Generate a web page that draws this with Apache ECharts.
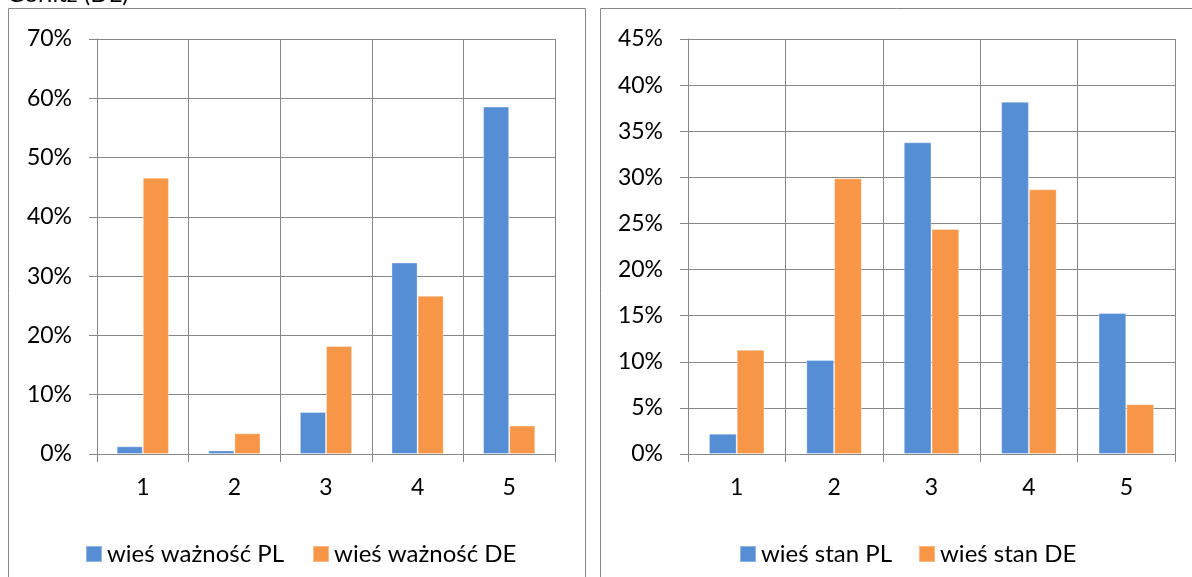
<!DOCTYPE html>
<html>
<head>
<meta charset="utf-8">
<script src="https://cdn.jsdelivr.net/npm/echarts@6/dist/echarts.min.js"></script>
<style>
html,body{margin:0;padding:0;background:#fff;}
#c{width:1192px;height:577px;}
</style>
</head>
<body>
<div id="c"></div>
<script>
var categories = ['1', '2', '3', '4', '5'];
var importancePL = [1.3, 0.6, 7.1, 32.3, 58.6];
var importanceDE = [46.6, 3.5, 18.2, 26.7, 4.8];
var statePL = [2.2, 10.2, 33.8, 38.2, 15.3];
var stateDE = [11.3, 29.9, 24.4, 28.7, 5.4];
var leftTicks = {min: 0, max: 70, interval: 10};
var rightTicks = {min: 0, max: 45, interval: 5};
var seriesNames = ['wieś ważność PL', 'wieś ważność DE', 'wieś stan PL', 'wieś stan DE'];
var topText = 'Görlitz (DE)';

var FONT = 'Lato';
var GRID = '#878787';
var BLUE = '#558ED5';
var ORANGE = '#F79646';

function xAx(gi) {
  return {
    type: 'category', gridIndex: gi, data: categories,
    axisLine: {show: true, lineStyle: {color: GRID, width: 1}},
    axisTick: {show: true, length: 8, lineStyle: {color: GRID, width: 1}},
    splitLine: {show: true, lineStyle: {color: GRID, width: 1}},
    axisLabel: {color: '#000', fontFamily: FONT, fontSize: 23, margin: 22}
  };
}
function yAx(gi, t) {
  return {
    type: 'value', gridIndex: gi, min: t.min, max: t.max, interval: t.interval,
    axisLine: {show: true, lineStyle: {color: GRID, width: 1}},
    axisTick: {show: true, length: 8, lineStyle: {color: GRID, width: 1}},
    splitLine: {show: true, lineStyle: {color: GRID, width: 1}},
    axisLabel: {color: '#000', fontFamily: FONT, fontSize: 23, margin: 25, formatter: '{value}%'}
  };
}
function bar(name, data, gi, color) {
  return {
    name: name, type: 'bar', xAxisIndex: gi, yAxisIndex: gi, data: data,
    barGap: '0%', barCategoryGap: '43%',
    itemStyle: {color: color, borderColor: 'rgba(255,255,255,0.35)', borderWidth: 1},
    animation: false
  };
}

var chart = echarts.init(document.getElementById('c'), null, {renderer: 'canvas'});
chart.setOption({
  animation: false,
  backgroundColor: '#fff',
  color: [BLUE, ORANGE, BLUE, ORANGE],
  grid: [
    {left: 97, top: 39, width: 458, height: 415, containLabel: false},
    {left: 688, top: 39, width: 487, height: 415, containLabel: false}
  ],
  xAxis: [xAx(0), xAx(1)],
  yAxis: [yAx(0, leftTicks), yAx(1, rightTicks)],
  legend: [
    {data: [seriesNames[0], seriesNames[1]], left: 80, top: 537, itemWidth: 16, itemHeight: 16, itemGap: 28,
     icon: 'rect', textStyle: {fontFamily: FONT, fontSize: 24, color: '#000'}},
    {data: [seriesNames[2], seriesNames[3]], left: 734, top: 537, itemWidth: 16, itemHeight: 16, itemGap: 26,
     icon: 'rect', textStyle: {fontFamily: FONT, fontSize: 24, color: '#000'}}
  ],
  graphic: [
    {type: 'rect', shape: {x: 8.5, y: 8.5, width: 577, height: 620}, style: {fill: 'none', stroke: GRID, lineWidth: 1}, silent: true},
    {type: 'rect', shape: {x: 600.5, y: 8.5, width: 700, height: 620}, style: {fill: 'none', stroke: GRID, lineWidth: 1}, silent: true},
    {type: 'text', left: 7, top: -18, style: {text: topText, fontFamily: FONT, fontSize: 24, fill: '#000'}, silent: true}
  ],
  series: [
    bar(seriesNames[0], importancePL, 0, BLUE),
    bar(seriesNames[1], importanceDE, 0, ORANGE),
    bar(seriesNames[2], statePL, 1, BLUE),
    bar(seriesNames[3], stateDE, 1, ORANGE)
  ]
});
</script>
</body>
</html>
